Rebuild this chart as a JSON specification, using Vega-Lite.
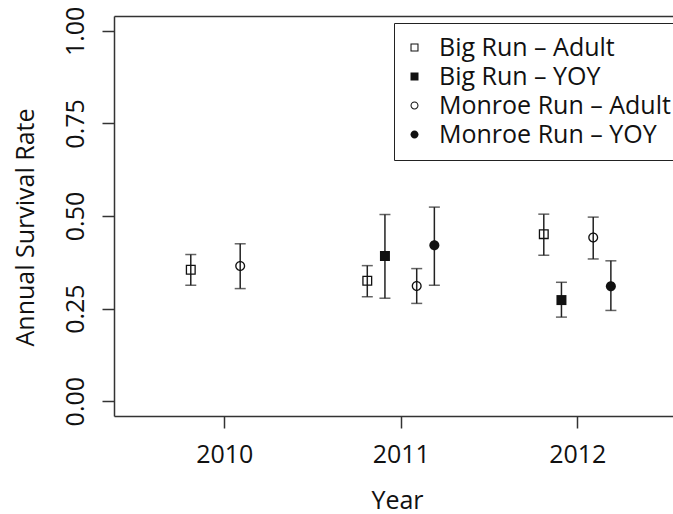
{
  "$schema": "https://vega.github.io/schema/vega-lite/v6.json",
  "width": 559,
  "height": 400,
  "autosize": "none",
  "padding": {"left": 114, "top": 16, "right": 0, "bottom": 98},
  "config": {
    "font": "Open Sans",
    "view": {"stroke": null},
    "axis": {"grid": false, "domainColor": "#333", "domainWidth": 1.5, "tickColor": "#333", "tickWidth": 1.5, "tickSize": 12, "labelColor": "#111", "titleColor": "#111", "labelFontSize": 25, "titleFontSize": 25, "titleFontWeight": "normal", "labelFlush": false, "labelOverlap": false}
  },
  "data": {
    "values": [
      {"series": "Big Run – Adult", "x": 2009.81, "est": 0.355, "lo": 0.313, "hi": 0.396},
      {"series": "Big Run – Adult", "x": 2010.81, "est": 0.325, "lo": 0.282, "hi": 0.366},
      {"series": "Big Run – Adult", "x": 2011.81, "est": 0.451, "lo": 0.394, "hi": 0.505},
      {"series": "Big Run – YOY", "x": 2010.91, "est": 0.392, "lo": 0.278, "hi": 0.504},
      {"series": "Big Run – YOY", "x": 2011.91, "est": 0.273, "lo": 0.227, "hi": 0.321},
      {"series": "Monroe Run – Adult", "x": 2010.09, "est": 0.365, "lo": 0.304, "hi": 0.425},
      {"series": "Monroe Run – Adult", "x": 2011.09, "est": 0.311, "lo": 0.264, "hi": 0.358},
      {"series": "Monroe Run – Adult", "x": 2012.09, "est": 0.442, "lo": 0.384, "hi": 0.497},
      {"series": "Monroe Run – YOY", "x": 2011.19, "est": 0.421, "lo": 0.313, "hi": 0.524},
      {"series": "Monroe Run – YOY", "x": 2012.19, "est": 0.310, "lo": 0.245, "hi": 0.379}
    ]
  },
  "resolve": {"axis": {"x": "independent"}},
  "layer": [
    {
      "mark": {"type": "rule", "color": "#222", "strokeWidth": 1.5},
      "encoding": {
        "x": {"field": "x", "type": "quantitative", "scale": {"domain": [2009.375, 2012.542], "nice": false, "zero": false},
          "axis": {"orient": "bottom", "values": [2010, 2011, 2012], "format": "d", "title": "Year", "labelBaseline": "alphabetic", "labelPadding": 34, "titleX": 283, "titleY": 92, "titleBaseline": "alphabetic", "titleAnchor": null, "titleAlign": "center"}},
        "y": {"field": "lo", "type": "quantitative", "scale": {"domain": [-0.04, 1.04], "nice": false, "zero": false},
          "axis": {"values": [0, 0.25, 0.5, 0.75, 1], "format": ".2f", "title": "Annual Survival Rate", "labelAngle": -90, "labelAlign": "center", "labelBaseline": "alphabetic", "labelPadding": 19, "titleAngle": -90, "titleX": -81, "titleY": 211, "titleBaseline": "alphabetic", "titleAlign": "center", "titleAnchor": null}},
        "y2": {"field": "hi"}
      }
    },
    {
      "mark": {"type": "tick", "orient": "horizontal", "color": "#222", "size": 11, "thickness": 1.5},
      "encoding": {
        "x": {"field": "x", "type": "quantitative", "axis": {"orient": "top", "labels": false, "ticks": false, "title": null, "domainColor": "#333", "domainWidth": 1.5}},
        "y": {"field": "lo", "type": "quantitative"}
      }
    },
    {
      "mark": {"type": "tick", "orient": "horizontal", "color": "#222", "size": 11, "thickness": 1.5},
      "encoding": {
        "x": {"field": "x", "type": "quantitative", "axis": null},
        "y": {"field": "hi", "type": "quantitative"}
      }
    },
    {
      "mark": {"type": "point", "filled": true, "color": "#111", "strokeWidth": 0, "opacity": 1, "size": 100},
      "encoding": {
        "x": {"field": "x", "type": "quantitative", "axis": null},
        "y": {"field": "est", "type": "quantitative"},
        "shape": {"field": "series", "type": "nominal", "title": null,
          "scale": {"domain": ["Big Run – Adult", "Big Run – YOY", "Monroe Run – Adult", "Monroe Run – YOY"],
            "range": ["M-1,-1H1V1H-1Z M-0.74,-0.74V0.74H0.74V-0.74Z", "M-1,-1H1V1H-1Z", "M-1,0A1,1,0,1,1,1,0A1,1,0,1,1,-1,0Z M-0.74,0A0.74,0.74,0,1,0,0.74,0A0.74,0.74,0,1,0,-0.74,0Z", "M-1,0A1,1,0,1,1,1,0A1,1,0,1,1,-1,0Z"]},
          "legend": {"orient": "none", "legendX": 280, "legendY": 7, "strokeColor": "#222", "padding": 12, "labelFontSize": 25, "labelColor": "#111", "labelOffset": 12, "symbolOffset": -4, "symbolSize": 64, "symbolFillColor": "#111", "symbolStrokeWidth": 0, "rowPadding": 3, "labelLimit": 400}}
      }
    }
  ]
}
